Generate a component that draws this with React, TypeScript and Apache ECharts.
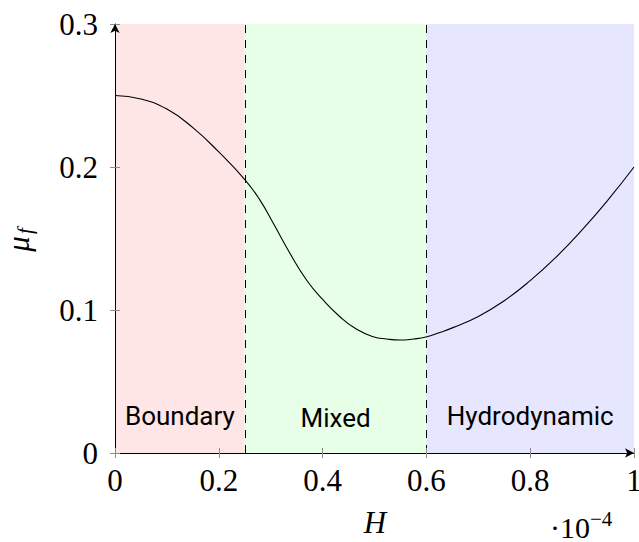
import React, { useEffect, useRef } from 'react';
import * as echarts from 'echarts';

// H in units of 1e-4
const H_VALUES = [0, 0.05, 0.1, 0.15, 0.2, 0.2505, 0.279, 0.305, 0.337, 0.369, 0.401, 0.4335, 0.4657, 0.4977, 0.5235, 0.549, 0.575, 0.599, 0.626, 0.65, 0.7, 0.75, 0.8, 0.85, 0.9, 0.95, 1.0];
const MU_VALUES = [0.25, 0.2475, 0.2405, 0.2275, 0.2105, 0.191, 0.177, 0.1606, 0.1397, 0.121, 0.107, 0.0953, 0.0865, 0.0813, 0.0797, 0.079, 0.0797, 0.0811, 0.0843, 0.0875, 0.0955, 0.1065, 0.1205, 0.137, 0.156, 0.177, 0.2];

const REGION_NAMES = ['Boundary', 'Mixed', 'Hydrodynamic'];
const REGION_EDGES = [0, 0.25, 0.6, 1];
const REGION_COLORS = ['#FFE6E6', '#E6FFE6', '#E6E6FF'];
const REGION_LABEL_Y = [416, 418, 416];

const X_MIN = 0, X_MAX = 1, X_STEP = 0.2;
const Y_MIN = 0, Y_MAX = 0.3, Y_STEP = 0.1;

const SERIF = '"Liberation Serif", "Times New Roman", serif';
const SANS = 'Roboto, "Noto Sans", sans-serif';

function fmt(v: number): string {
  if (Math.abs(v) < 1e-9) return '0';
  if (Math.abs(v - Math.round(v)) < 1e-9) return String(Math.round(v));
  return v.toFixed(1);
}

export default function App() {
  const ref = useRef<HTMLDivElement>(null);
  useEffect(() => {
    document.body.style.margin = '0';
    document.body.style.overflow = 'hidden';
    document.documentElement.style.overflow = 'hidden';
    if (!ref.current) return;
    const chart = echarts.init(ref.current, undefined, { renderer: 'svg', width: 639, height: 542 });
    const tickColor = '#8c8c8c';
    const axisCommon = {
      type: 'value' as const,
      splitLine: { show: false },
    };
    const option: any = {
      animation: false,
      backgroundColor: '#ffffff',
      grid: { left: 115, right: 5, top: 24, bottom: 89, containLabel: false, outerBoundsMode: 'none' },
      xAxis: [
        {
          ...axisCommon,
          min: X_MIN, max: X_MAX, interval: X_STEP,
          z: 10,
          axisLine: { show: true, onZero: false, symbol: ['none', 'arrow'], symbolSize: [7, 9], lineStyle: { color: '#000', width: 1 } },
          axisTick: { show: true, length: 5, lineStyle: { color: tickColor, width: 1 } },
          axisLabel: { show: true, margin: 12, color: '#000', fontFamily: SERIF, fontSize: 31, formatter: fmt },
        },
        {
          ...axisCommon,
          min: X_MIN, max: X_MAX, interval: X_STEP,
          position: 'bottom',
          z: 10,
          axisLine: { show: false },
          axisTick: { show: true, inside: true, length: 5, lineStyle: { color: tickColor, width: 1 } },
          axisLabel: { show: false },
        },
      ],
      yAxis: [
        {
          ...axisCommon,
          min: Y_MIN, max: Y_MAX, interval: Y_STEP,
          z: 10,
          axisLine: { show: true, onZero: false, symbol: ['none', 'arrow'], symbolSize: [7, 9], lineStyle: { color: '#000', width: 1 } },
          axisTick: { show: true, length: 5, lineStyle: { color: tickColor, width: 1 } },
          axisLabel: { show: true, margin: 17, color: '#000', fontFamily: SERIF, fontSize: 31, formatter: fmt },
        },
        {
          ...axisCommon,
          min: Y_MIN, max: Y_MAX, interval: Y_STEP,
          position: 'left',
          z: 10,
          axisLine: { show: false },
          axisTick: { show: true, inside: true, length: 5, lineStyle: { color: tickColor, width: 1 } },
          axisLabel: { show: false },
        },
      ],
      series: [
        {
          type: 'line',
          xAxisIndex: 0,
          yAxisIndex: 0,
          data: H_VALUES.map((h, i) => [h, MU_VALUES[i]]),
          smooth: 0.5,
          showSymbol: false,
          symbol: 'none',
          lineStyle: { color: '#000', width: 1.1 },
          z: 3,
          markArea: {
            silent: true,
            z: 1,
            data: REGION_NAMES.map((n, i) => [
              { xAxis: REGION_EDGES[i], itemStyle: { color: REGION_COLORS[i], opacity: 1 } },
              { xAxis: REGION_EDGES[i + 1] },
            ]),
          },
          markLine: {
            silent: true,
            symbol: ['none', 'none'],
            label: { show: false },
            lineStyle: { color: '#000', type: [8, 7], width: 1 },
            data: REGION_EDGES.slice(1, -1).map((e) => ({ xAxis: e })),
          },
        },
      ],
    };
    chart.setOption(option);

    const graphics: any[] = [];
    REGION_NAMES.forEach((n, i) => {
      const mid = (REGION_EDGES[i] + REGION_EDGES[i + 1]) / 2;
      const p = chart.convertToPixel({ xAxisIndex: 0, yAxisIndex: 0 }, [mid, 0]) as number[];
      graphics.push({
        type: 'text',
        x: p[0],
        y: REGION_LABEL_Y[i],
        z: 20,
        style: { text: n, fontFamily: SANS, fontSize: 26, fill: '#000', align: 'center', verticalAlign: 'middle', textAlign: 'center', textVerticalAlign: 'middle' },
      });
    });
    // x axis name
    graphics.push({
      type: 'text', x: 375, y: 522, z: 20,
      style: { text: 'H', fontFamily: SERIF, fontStyle: 'italic', fontSize: 31, fill: '#000', align: 'center', verticalAlign: 'middle', textAlign: 'center', textVerticalAlign: 'middle' },
    });
    // multiplier
    graphics.push({
      type: 'text', x: 590, y: 527, z: 20,
      style: { text: '·10', fontFamily: SERIF, fontSize: 30, fill: '#000', align: 'right', verticalAlign: 'middle', textAlign: 'right', textVerticalAlign: 'middle' },
    });
    graphics.push({
      type: 'text', x: 590, y: 519, z: 20,
      style: { text: '−4', fontFamily: SERIF, fontSize: 21, fill: '#000', align: 'left', verticalAlign: 'middle', textAlign: 'left', textVerticalAlign: 'middle' },
    });
    // y axis name
    graphics.push({
      type: 'group', x: 27, y: 238, rotation: Math.PI / 2, z: 20,
      children: [
        { type: 'text', x: -6, y: -9, style: { text: 'μ', fontFamily: SERIF, fontStyle: 'italic', fontSize: 31, fill: '#000', align: 'center', verticalAlign: 'middle', textAlign: 'center', textVerticalAlign: 'middle' } },
        { type: 'text', x: 4, y: -2, style: { text: 'f', fontFamily: SERIF, fontStyle: 'italic', fontSize: 21, fill: '#000', align: 'left', verticalAlign: 'middle', textAlign: 'left', textVerticalAlign: 'middle' } },
      ],
    });
    chart.setOption({ graphic: graphics });

    return () => chart.dispose();
  }, []);
  return <div ref={ref} style={{ width: 639, height: 542 }} />;
}
